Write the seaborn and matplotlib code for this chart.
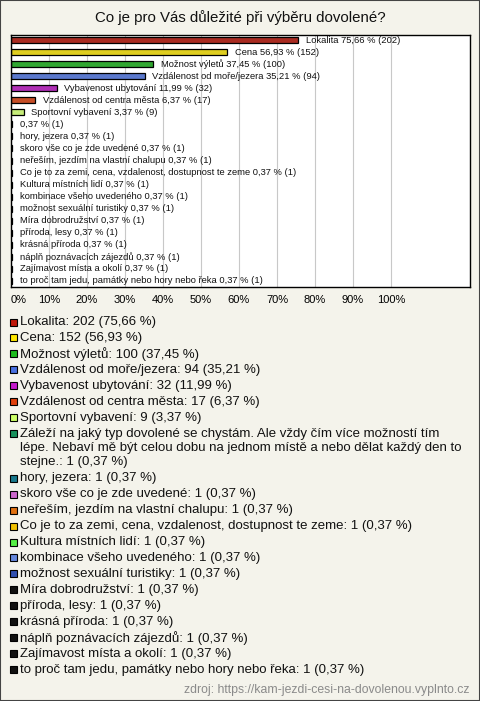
import matplotlib
matplotlib.use("Agg")
import matplotlib.pyplot as plt
from matplotlib.patches import Rectangle
import seaborn as sns
import pandas as pd

title = "Co je pro Vás důležité při výběru dovolené?"
source = "zdroj: https://kam-jezdi-cesi-na-dovolenou.vyplnto.cz"

answers = [
    "Lokalita",
    "Cena",
    "Možnost výletů",
    "Vzdálenost od moře/jezera",
    "Vybavenost ubytování",
    "Vzdálenost od centra města",
    "Sportovní vybavení",
    "Záleží na jaký typ dovolené se chystám. Ale vždy čím více možností tím\n"
    "lépe. Nebaví mě být celou dobu na jednom místě a nebo dělat každý den to\n"
    "stejne.",
    "hory, jezera",
    "skoro vše co je zde uvedené",
    "neřeším, jezdím na vlastní chalupu",
    "Co je to za zemi, cena, vzdalenost, dostupnost te zeme",
    "Kultura místních lidí",
    "kombinace všeho uvedeného",
    "možnost sexuální turistiky",
    "Míra dobrodružství",
    "příroda, lesy",
    "krásná příroda",
    "náplň poznávacích zájezdů",
    "Zajímavost místa a okolí",
    "to proč tam jedu, památky nebo hory nebo řeka",
]
counts = [202, 152, 100, 94, 32, 17, 9] + [1] * 14
percents = [75.66, 56.93, 37.45, 35.21, 11.99, 6.37, 3.37] + [0.37] * 14
colors = [
    "#c0180a", "#ffe800", "#1dbb1d", "#4870e0", "#c41acc", "#e0400c",
    "#ccff66", "#18905c", "#18788c", "#cc66cc", "#e07010", "#f0c000",
    "#55ee44", "#6688dd", "#3050b0", "#111111", "#111111", "#111111",
    "#111111", "#111111", "#111111",
]
xticks = list(range(0, 101, 10))

df = pd.DataFrame({"answer": [str(i) for i in range(len(answers))],
                   "pct": percents})

bg = "#f4f3eb"
fig = plt.figure(figsize=(4.8, 7.01), dpi=100, facecolor=bg)
W, H = 480, 701

ax = fig.add_axes([11 / W, 1 - 287 / H, 459 / W, 252 / H])
sns.barplot(data=df, x="pct", y="answer", hue="answer", palette=colors,
            legend=False, orient="h", width=0.5, edgecolor="black",
            linewidth=0.9, ax=ax)
ax.set_facecolor("white")
ax.set_xlim(0, 120.8)
ax.set_ylim(20.5, -0.42)
ax.set_xticks(xticks)
ax.set_xticklabels([f"{t}%" for t in xticks], fontsize=8,
                   family="Liberation Sans")
ax.get_xticklabels()[0].set_horizontalalignment("left")
ax.set_yticks([])
ax.set_xlabel("")
ax.set_ylabel("")
ax.tick_params(axis="x", length=0, pad=6)
ax.grid(axis="x", color="#c8c8c8", linewidth=0.8)
ax.set_axisbelow(True)
for s in ax.spines.values():
    s.set_color("black")
    s.set_linewidth(1)

for i, (name, p, c) in enumerate(zip(answers, percents, counts)):
    ptxt = f"{p:.2f}".replace(".", ",")
    lab = f"{ptxt} % ({c})" if "\n" in name else f"{name} {ptxt} % ({c})"
    ax.text(p + 2.0, i, lab, va="center", ha="left", fontsize=6.75,
            family="Liberation Sans", color="#111111")

fig.text(0.5, 1 - 18 / H, title, ha="center", va="center", fontsize=10.8,
         family="Liberation Sans", color="#111111")

# legend
y = 322
for name, p, c, col in zip(answers, percents, counts, colors):
    ptxt = f"{p:.2f}".replace(".", ",")
    lines = f"{name}: {c} ({ptxt} %)".split("\n")
    fig.patches.append(Rectangle((10 / W, 1 - (y + 3.5) / H), 7 / W, 7 / H,
                                 transform=fig.transFigure, facecolor=col,
                                 edgecolor="black", linewidth=0.8))
    for k, line in enumerate(lines):
        fig.text(20 / W, 1 - y / H, line, ha="left", va="center",
                 fontsize=9.5, family="Liberation Sans", color="#111111")
        if k < len(lines) - 1:
            y += 14.3
    y += 15.95

fig.text(470 / W, 1 - 690 / H, source, ha="right", va="center", fontsize=8.8,
         family="Liberation Sans", color="#8a8a8a")

fig.patches.append(Rectangle((0, 0), 1, 1, transform=fig.transFigure,
                             fill=False, edgecolor="#444444", linewidth=1.5))

fig.savefig("out.png", dpi=100, facecolor=bg)
